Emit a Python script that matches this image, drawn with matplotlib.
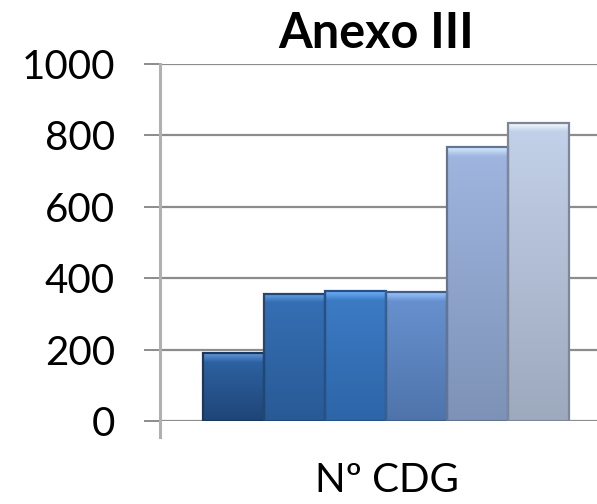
"""
Anexo III - Nº CDG bar chart (Excel-style bevel bars).
"""
import numpy as np
import matplotlib
matplotlib.use("Agg")
import matplotlib.pyplot as plt
from matplotlib.colors import to_rgb
from matplotlib.lines import Line2D

# data
title = "Anexo III"
category_label = "Nº CDG"
values = [190, 356, 364, 361, 767, 835]
yticks = [0, 200, 400, 600, 800, 1000]

# top / bottom colours of each bar gradient
top_colors = ["#2f65a6", "#3670b5", "#3d7cc6", "#6892d0", "#a0b6e0", "#c3d1ea"]
bottom_colors = ["#1f4577", "#285a95", "#2d65a8", "#4f74ab", "#7d92b6", "#9da9bd"]

plt.rcParams["font.family"] = ["Lato", "DejaVu Sans"]

fig = plt.figure(figsize=(5.97, 5.04), dpi=100)
ax = fig.add_axes([160 / 597, 1 - 421 / 504, 452 / 597, 357 / 504])

x = np.arange(len(values))
bars = ax.bar(x, values, width=1.0, color=top_colors, edgecolor="none", zorder=3)

bevel = 24  # height of the light top band, data units
for b, c_top, c_bot in zip(bars, top_colors, bottom_colors):
    x0, y0 = b.get_x(), b.get_y()
    w, h = b.get_width(), b.get_height()
    ct, cb = np.array(to_rgb(c_top)), np.array(to_rgb(c_bot))
    yy = np.linspace(0, h, 200)[:, None]
    t = yy / h
    grad = (1 - t) * cb + t * ct
    light = np.clip(ct + 0.2, 0, 1)
    band = yy[:, 0] > h - bevel
    s = ((yy[band, 0] - (h - bevel)) / bevel)[:, None]
    grad[band] = s * light + (1 - s) * ct
    grad = np.repeat(grad[:, None, :], 2, axis=1)
    im = ax.imshow(grad, extent=[x0, x0 + w, y0, y0 + h], origin="lower",
                   aspect="auto", zorder=3.1, interpolation="bilinear")
    im.set_clip_path(b)
    # darker outline
    ax.bar(x0 + w / 2, h, bottom=y0, width=w, color="none",
           edgecolor=tuple(cb * 0.8), linewidth=1.6, zorder=3.3)

ax.set_xlim(-1.205, 6.205)
ax.set_ylim(0, 1000)
ax.set_yticks(yticks)
ax.set_yticklabels([str(v) for v in yticks], fontsize=29)
ax.set_xticks([])

ax.grid(axis="y", color="#8c8c8c", linewidth=1.6, zorder=0)
ax.tick_params(axis="y", length=11.5, width=1.4, color="#8c8c8c", pad=21)
for s in ["top", "right", "bottom", "left"]:
    ax.spines[s].set_visible(False)

# left axis line extends a bit below zero, Excel style
ax.add_line(Line2D([0, 0], [-0.045, 1.0], transform=ax.transAxes,
                   color="#b0b0b0", linewidth=2.2, clip_on=False, zorder=4))

fig.text(376 / 597, 1 - 34 / 504, title, ha="center", va="center",
         fontsize=35, fontweight="bold")
fig.text(387 / 597, 1 - 480 / 504, category_label, ha="center", va="center",
         fontsize=29)

fig.savefig("out.png", dpi=100)
